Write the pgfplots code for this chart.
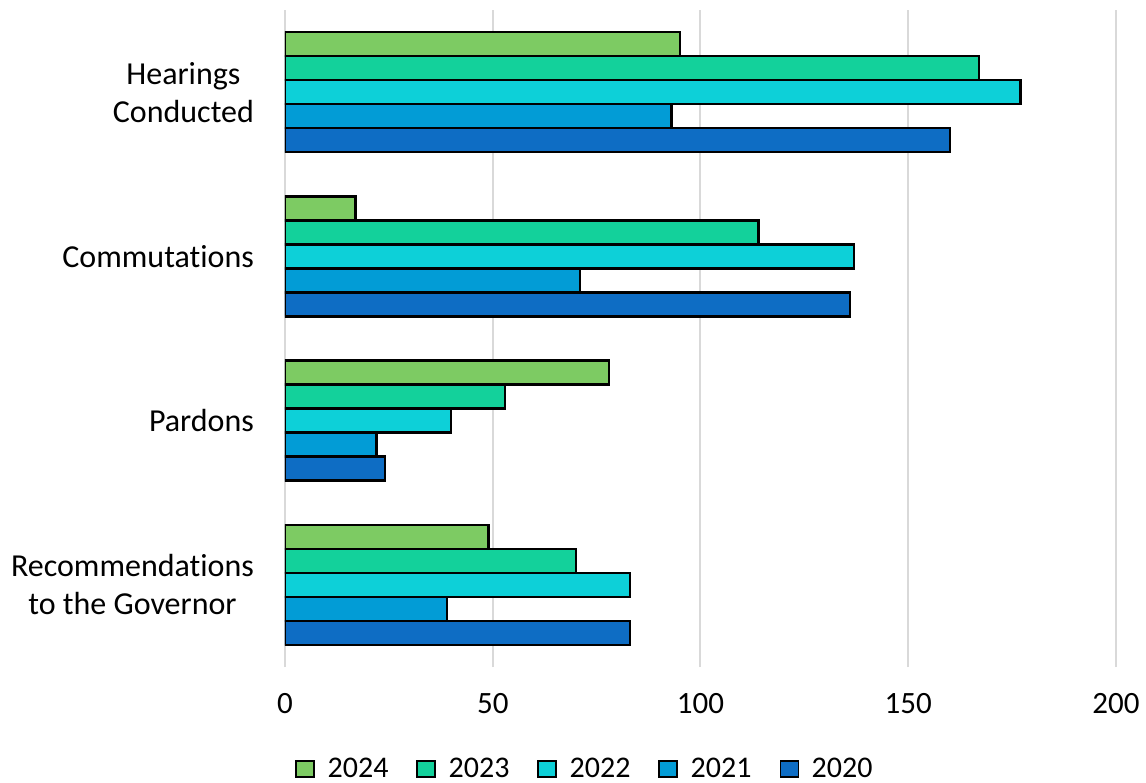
\documentclass[border=0pt]{standalone}
\usepackage{fontspec}
\setmainfont{Carlito}[Ligatures={NoCommon}]
\usepackage{pgfplots}
\pgfplotsset{compat=1.18}
\definecolor{c2024}{HTML}{7DCB63}
\definecolor{c2023}{HTML}{13D19B}
\definecolor{c2022}{HTML}{0DD0D8}
\definecolor{c2021}{HTML}{029CD6}
\definecolor{c2020}{HTML}{0E6DC4}
\definecolor{gridgray}{HTML}{D9D9D9}
\begin{document}
\begin{tikzpicture}
\path[use as bounding box] (-142.5pt,-57.5pt) rectangle (430.5pt,333.5pt);
\begin{axis}[
  scale only axis,
  width=415.5pt, height=328.5pt,
  xmin=0, xmax=200, ymin=-0.5, ymax=3.5,
  xbar,
  bar width=0.146,
  axis line style={draw=none},
  xtick={0,50,100,150,200},
  ytick={0,1,2,3},
  yticklabels={{Recommendations\\to the Governor},Pardons,Commutations,{Hearings\\Conducted}},
  yticklabel style={align=center, font=\fontsize{16}{19}\selectfont, xshift=-12pt},
  xticklabel style={font=\fontsize{15.5}{19}\selectfont, yshift=-9.5pt},
  /pgf/number format/assume math mode=true,
  major tick length=0pt,
  xmajorgrids,
  grid style={gridgray, line width=1pt},
  legend columns=5,
  legend style={draw=none, at={(0.3622,-0.1553)}, anchor=center,
    font=\fontsize{15}{18}\selectfont,
    /tikz/every odd column/.append style={column sep=4.5pt},
    /tikz/every even column/.append style={column sep=12pt}},
  legend image code/.code={\draw[#1, line width=0.6pt] (0pt,-4pt) rectangle (9pt,4pt);},
  every axis plot/.append style={draw=black, line width=1.2pt},
]
\addplot[fill=c2024, bar shift=0.292] coordinates {(95,3) (17,2) (78,1) (49,0)};
\addplot[fill=c2023, bar shift=0.146] coordinates {(167,3) (114,2) (53,1) (70,0)};
\addplot[fill=c2022, bar shift=0] coordinates {(177,3) (137,2) (40,1) (83,0)};
\addplot[fill=c2021, bar shift=-0.146] coordinates {(93,3) (71,2) (22,1) (39,0)};
\addplot[fill=c2020, bar shift=-0.292] coordinates {(160,3) (136,2) (24,1) (83,0)};
\legend{2024,2023,2022,2021,2020}
\end{axis}
\end{tikzpicture}
\end{document}
